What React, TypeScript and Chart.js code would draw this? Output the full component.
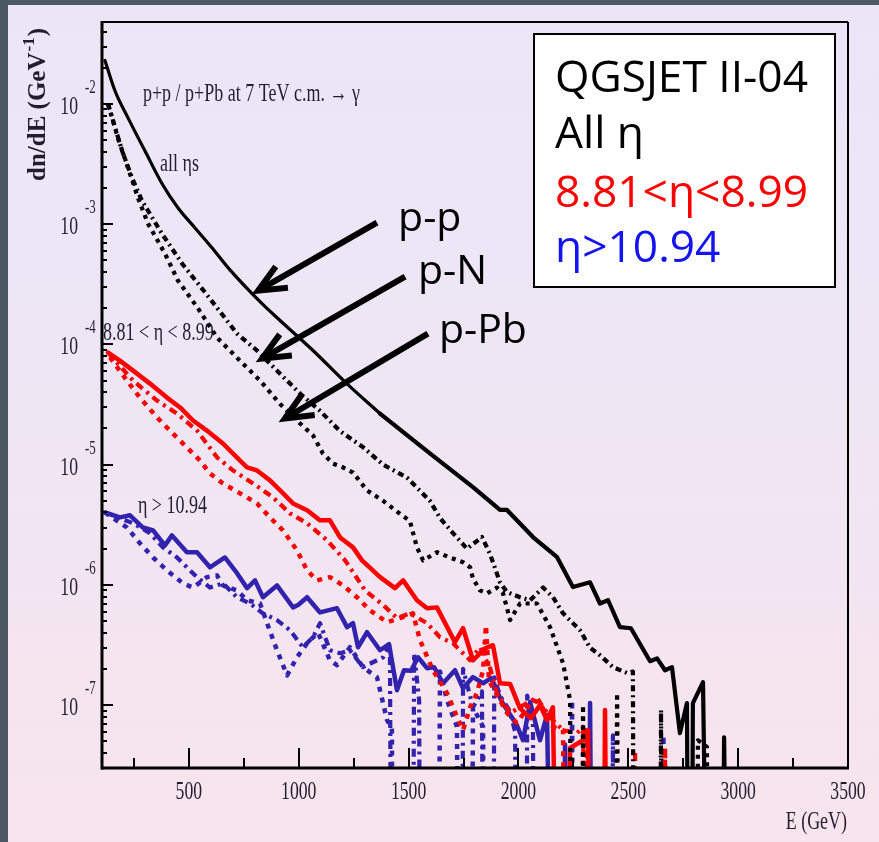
import React, { useEffect, useRef } from "react";
import { Chart, registerables } from "chart.js";

Chart.register(...registerables);

// An empty histogram bin: sits far below the log axis so the line drops out of the frame.
const ZERO = 1e-12;

// Photon spectra, all pseudorapidities: [E (GeV), dn/dE (GeV^-1)]
// p-p is kept in two parts: the smooth low-energy fall-off and the noisy high-energy tail.
const allEtaPPHead: [number, number][] = [
  [118, 2.3e-2], [164, 1.28e-2], [223, 7.65e-3], [300, 4.07e-3], [378, 2.17e-3], [450, 1.37e-3],
  [528, 9.3e-4], [605, 6.37e-4], [678, 4.35e-4], [833, 2.18e-4], [915, 1.58e-4], [1065, 8.9e-5],
  [1220, 4.7e-5], [1370, 2.66e-5],
];
const allEtaPPTail: [number, number][] = [
  [1370, 2.66e-5], [1597, 1.24e-5], [1793, 6.5e-6], [1916, 4.2e-6], [1948, 4.2e-6],
  [2066, 2.5e-6], [2176, 1.7e-6], [2248, 9.6e-7], [2326, 1.05e-6], [2371, 7.0e-7], [2408, 7.45e-7],
  [2462, 4.45e-7], [2512, 4.36e-7], [2599, 2.32e-7], [2631, 2.45e-7], [2667, 1.95e-7], [2699, 2.07e-7],
  [2735, 5.85e-8], [2767, 1.04e-7], [2781, ZERO], [2794, 1.04e-7], [2840, 1.55e-7], [2881, ZERO],
  [2917, ZERO], [2936, 5.4e-8], [2972, ZERO],
];
const allEtaPN: [number, number][] = [
  [132, 1.0e-2], [196, 4.07e-3], [241, 2.43e-3], [287, 1.56e-3], [378, 8.3e-4], [469, 4.7e-4],
  [596, 2.4e-4], [719, 1.23e-4], [810, 8.9e-5], [915, 5.7e-5], [1006, 3.9e-5], [1097, 2.8e-5],
  [1188, 1.9e-5], [1292, 1.4e-5], [1384, 1.0e-5], [1493, 7.8e-6], [1597, 5.0e-6], [1643, 3.6e-6],
  [1702, 2.7e-6], [1766, 2.0e-6], [1834, 2.5e-6], [1871, 1.8e-6], [1916, 1.05e-6], [1948, 8.7e-7],
  [2007, 7.9e-7], [2053, 7.45e-7], [2112, 9.5e-7], [2157, 7.9e-7], [2203, 5.8e-7], [2280, 4.2e-7],
  [2326, 3.0e-7], [2371, 2.6e-7], [2430, 2.07e-7], [2494, 1.85e-7], [2521, 1.9e-7], [2530, ZERO],
  [2640, ZERO], [2649, 9.1e-8], [2658, ZERO],
];
const allEtaPPb: [number, number][] = [
  [132, 1.0e-2], [177, 5.2e-3], [223, 2.94e-3], [268, 1.66e-3], [314, 1.01e-3], [391, 5.7e-4],
  [450, 3.4e-4], [541, 2.0e-4], [628, 1.14e-4], [733, 7.3e-5], [824, 5.0e-5], [915, 3.2e-5],
  [1006, 2.2e-5], [1065, 1.75e-5], [1110, 1.24e-5], [1156, 1.02e-5], [1201, 9.5e-6], [1247, 8.6e-6],
  [1311, 6.1e-6], [1384, 5.0e-6], [1461, 3.9e-6], [1506, 3.4e-6], [1538, 2.05e-6], [1566, 1.6e-6],
  [1629, 1.87e-6], [1688, 1.69e-6], [1748, 1.54e-6], [1780, 1.4e-6], [1793, 1.13e-6], [1825, 9.0e-7],
  [1857, 8.5e-7], [1902, 9.5e-7], [1930, 8.5e-7], [1962, 5.1e-7], [2007, 7.0e-7], [2084, 7.0e-7],
  [2144, 4.45e-7], [2203, 2.23e-7], [2235, 1.1e-7], [2248, ZERO], [2282, ZERO], [2294, 1.0e-7],
  [2308, ZERO], [2436, ZERO], [2449, 1.26e-7], [2467, ZERO], [2805, ZERO], [2817, 5.1e-8],
  [2858, 4.5e-8], [2867, ZERO],
];

// 8.81 < eta < 8.99
const midEtaPP: [number, number][] = [
  [132, 8.55e-5], [186, 7.33e-5], [246, 6.05e-5], [323, 4.72e-5], [400, 3.61e-5], [460, 2.99e-5],
  [519, 2.33e-5], [582, 1.92e-5], [655, 1.5e-5], [733, 1.08e-5], [765, 9.5e-6], [810, 8.95e-6],
  [869, 7.4e-6], [928, 5.8e-6], [974, 4.76e-6], [1038, 4.17e-6], [1097, 3.44e-6], [1142, 3.44e-6],
  [1188, 2.48e-6], [1247, 2.05e-6], [1288, 1.6e-6], [1370, 1.16e-6], [1438, 9.4e-7], [1475, 1.09e-6],
  [1538, 7.45e-7], [1584, 6.4e-7], [1629, 6.5e-7], [1711, 3.34e-7], [1748, 4.36e-7], [1793, 2.36e-7],
  [1848, 2.97e-7], [1884, 3.15e-7], [1916, 1.52e-7], [1962, 1.5e-7], [2007, 9.4e-8], [2057, 7.8e-8],
  [2098, 1.0e-7], [2130, 7.5e-8], [2157, 9.6e-8], [2198, ZERO], [2235, 4.4e-8], [2294, 5.1e-8],
  [2317, 6.2e-8], [2344, ZERO], [2380, ZERO], [2394, 9.1e-8], [2417, ZERO],
];
const midEtaPN: [number, number][] = [
  [132, 8.55e-5], [246, 5.0e-5], [355, 3.41e-5], [446, 2.66e-5], [537, 1.92e-5], [628, 1.15e-5],
  [701, 8.95e-6], [792, 6.98e-6], [883, 5.34e-6], [960, 3.93e-6], [1038, 3.25e-6], [1129, 2.35e-6],
  [1211, 1.6e-6], [1302, 9.0e-7], [1384, 6.8e-7], [1447, 5.3e-7], [1506, 5.8e-7], [1584, 4.8e-7],
  [1643, 3.67e-7], [1702, 3.27e-7], [1780, 2.36e-7], [1825, 3.03e-7], [1871, 2.03e-7], [1902, 1.26e-7],
  [1962, 8.6e-8], [2039, 1.04e-7], [2084, 1.16e-7], [2112, 9.6e-8], [2157, 7.5e-8], [2203, 6.2e-8],
  [2267, 5.85e-8], [2294, 6.6e-8], [2326, ZERO], [2520, ZERO], [2531, 4.0e-8], [2545, ZERO],
];
const midEtaPPb: [number, number][] = [
  [141, 7.8e-5], [218, 5.0e-5], [277, 3.61e-5], [355, 2.47e-5], [414, 1.92e-5], [491, 1.39e-5],
  [551, 1.08e-5], [596, 8.45e-6], [655, 6.98e-6], [733, 5.77e-6], [810, 4.76e-6], [869, 3.64e-6],
  [928, 2.84e-6], [992, 1.94e-6], [1038, 1.32e-6], [1083, 1.09e-6], [1142, 1.16e-6], [1201, 9.9e-7],
  [1265, 7.9e-7], [1324, 6.15e-7], [1402, 4.9e-7], [1475, 5.4e-7], [1520, 5.8e-7], [1552, 3.47e-7],
  [1611, 1.95e-7], [1675, 1.26e-7], [1720, 8.0e-8], [1748, 6.2e-8], [1780, 9.6e-8], [1811, 1.26e-7],
  [1839, 1.95e-7], [1852, 4.6e-7], [1866, 1.6e-7], [1948, 8.6e-8], [1993, 7.1e-8], [2066, 1.1e-7],
  [2098, 1.04e-7], [2157, 6.6e-8], [2203, 6.2e-8], [2228, ZERO], [2300, ZERO], [2312, 6.6e-8],
  [2325, ZERO], [2650, ZERO], [2667, 4.4e-8], [2685, ZERO],
];

// eta > 10.94
const highEtaPP: [number, number][] = [
  [118, 4.0e-6], [186, 3.64e-6], [232, 3.79e-6], [291, 3.0e-6], [337, 2.84e-6], [391, 2.13e-6],
  [423, 2.58e-6], [491, 1.87e-6], [537, 1.87e-6], [596, 1.4e-6], [664, 1.69e-6], [719, 1.25e-6],
  [765, 9.4e-7], [801, 1.09e-6], [837, 7.9e-7], [901, 9.9e-7], [974, 6.5e-7], [997, 6.8e-7],
  [1038, 7.9e-7], [1097, 5.9e-7], [1174, 6.4e-7], [1220, 4.45e-7], [1247, 4.8e-7], [1270, 3.03e-7],
  [1311, 4.04e-7], [1370, 2.86e-7], [1411, 3.21e-7], [1447, 1.33e-7], [1479, 1.95e-7], [1511, 1.93e-7],
  [1543, 2.5e-7], [1584, 2.03e-7], [1616, 2.07e-7], [1657, 1.52e-7], [1711, 1.95e-7], [1748, 1.38e-7],
  [1793, 1.71e-7], [1839, 1.52e-7], [1875, 1.68e-7], [1925, 1.06e-7], [1993, 6.8e-8], [2021, 5.1e-8],
  [2053, 1.06e-7], [2098, 5.1e-8], [2130, 8.3e-8], [2176, ZERO], [2200, ZERO], [2212, 4.7e-8],
  [2240, ZERO], [2314, ZERO], [2326, 1.04e-7], [2345, ZERO],
];
const highEtaPN: [number, number][] = [
  [118, 4.0e-6], [155, 3.79e-6], [246, 3.25e-6], [323, 2.69e-6], [382, 2.05e-6], [446, 1.69e-6],
  [491, 1.4e-6], [537, 1.16e-6], [596, 9.5e-7], [655, 1.03e-6], [719, 7.9e-7], [778, 7.0e-7],
  [837, 5.8e-7], [901, 5.1e-7], [960, 4.2e-7], [1019, 3.03e-7], [1065, 3.67e-7], [1097, 4.8e-7],
  [1142, 2.86e-7], [1188, 2.7e-7], [1233, 2.86e-7], [1292, 2.07e-7], [1384, 2.5e-7], [1415, 3.2e-7],
  [1428, ZERO], [1515, ZERO], [1525, 2.7e-7], [1548, 1.1e-7], [1558, ZERO], [1738, ZERO],
  [1748, 2.0e-7], [1793, 9.6e-8], [1834, 1.3e-7], [1845, ZERO], [1880, ZERO], [1890, 1.7e-7],
  [1916, 1.2e-7], [1960, 9.0e-8], [1985, 6.0e-8], [1995, ZERO], [2030, ZERO], [2040, 1.2e-7],
  [2066, 7.0e-8], [2080, ZERO], [2420, ZERO], [2430, 5.6e-8], [2440, ZERO],
];
const highEtaPPb: [number, number][] = [
  [118, 4.0e-6], [218, 3.0e-6], [277, 2.22e-6], [337, 1.69e-6], [400, 1.32e-6], [473, 1.03e-6],
  [519, 9.5e-7], [582, 1.16e-6], [628, 1.2e-6], [655, 9.9e-7], [719, 9.0e-7], [765, 7.45e-7],
  [824, 7.0e-7], [856, 4.8e-7], [901, 2.86e-7], [947, 1.77e-7], [992, 2.5e-7], [1038, 3.27e-7],
  [1088, 4.0e-7], [1142, 2.36e-7], [1174, 2.15e-7], [1233, 3.03e-7], [1292, 2.07e-7], [1356, 1.71e-7],
  [1402, 7.5e-8], [1424, 6.4e-8], [1432, ZERO], [1630, ZERO], [1643, 1.9e-7], [1675, 1.1e-7],
  [1720, 6.6e-8], [1740, ZERO], [1780, ZERO], [1793, 9.6e-8], [1839, 6.6e-8], [1850, ZERO],
  [2230, ZERO], [2244, 1.1e-7], [2255, ZERO], [2650, ZERO], [2660, 5.6e-8], [2670, ZERO],
];

// Axes
const xMin = 100;
const xMax = 3500;
const yMin = 3e-8;
const yMax = 0.048;
const xMajorTicks = [500, 1000, 1500, 2000, 2500, 3000, 3500];
const xMinorTicks = [250, 750, 1250, 1750, 2250, 2750, 3250];
const yDecades = [-2, -3, -4, -5, -6, -7];

// Labels placed in data coordinates: [E, dn/dE]
const plotTexts: { text: string; at: [number, number] }[] = [
  { text: "p+p / p+Pb at 7 TeV c.m. \u2192 \u03b3", at: [291, 1.06e-2] },
  { text: "all \u03b7s", at: [369, 2.78e-3] },
  { text: "8.81 < \u03b7 < 8.99", at: [109, 1.08e-4] },
  { text: "\u03b7 > 10.94", at: [268, 3.93e-6] },
];
const arrows: { label: string; from: [number, number]; to: [number, number]; labelAt: [number, number] }[] = [
  { label: "p-p", from: [1356, 1.03e-3], to: [815, 2.8e-4], labelAt: [1452, 8.8e-4] },
  { label: "p-N", from: [1484, 3.66e-4], to: [833, 7.62e-5], labelAt: [1543, 3.2e-4] },
  { label: "p-Pb", from: [1588, 1.23e-4], to: [937, 2.42e-5], labelAt: [1638, 1.02e-4] },
];
const legendLines: { text: string; color: string }[] = [
  { text: "QGSJET II-04", color: "#000000" },
  { text: "All \u03b7", color: "#000000" },
  { text: "8.81<\u03b7<8.99", color: "#ff0000" },
  { text: "\u03b7>10.94", color: "#1414f0" },
];

const BLACK = "#000000";
const RED = "#ff0000";
const BLUE = "#3223ae";
const LABEL_INK = "#221d30";
const SERIF = '"Liberation Serif", "DejaVu Serif", serif';
const SANS = '"Open Sans", "Noto Sans", sans-serif';

function drawText(
  ctx: CanvasRenderingContext2D,
  s: string,
  x: number,
  y: number,
  font: string,
  color: string,
  align: CanvasTextAlign = "left",
  sx = 1
) {
  ctx.save();
  ctx.translate(x, y);
  ctx.scale(sx, 1);
  ctx.font = font;
  ctx.fillStyle = color;
  ctx.textAlign = align;
  ctx.textBaseline = "alphabetic";
  ctx.fillText(s, 0, 0);
  ctx.restore();
}

function seg(ctx: CanvasRenderingContext2D, x1: number, y1: number, x2: number, y2: number) {
  ctx.beginPath();
  ctx.moveTo(x1, y1);
  ctx.lineTo(x2, y2);
  ctx.stroke();
}

const decorations = {
  id: "decorations",
  beforeDraw(chart: any) {
    const { ctx, width, height } = chart;
    ctx.save();
    ctx.fillStyle = "#4a5962";
    ctx.fillRect(0, 0, width, height);
    const g = ctx.createLinearGradient(0, 5, 0, height);
    g.addColorStop(0, "#eae6f8");
    g.addColorStop(0.5, "#efe6f4");
    g.addColorStop(1, "#f8e4ec");
    ctx.fillStyle = g;
    ctx.fillRect(8, 5, width - 8, height - 5);
    ctx.restore();
  },
  afterDatasetsDraw(chart: any) {
    const { ctx, chartArea: a } = chart;
    const xs = chart.scales.x;
    const ys = chart.scales.y;
    const px = (v: number) => xs.getPixelForValue(v);
    const py = (v: number) => ys.getPixelForValue(v);
    ctx.save();

    // frame
    ctx.strokeStyle = BLACK;
    ctx.lineCap = "butt";
    ctx.lineWidth = 2;
    seg(ctx, a.left, a.top, a.right, a.top);
    seg(ctx, a.right, a.top, a.right, a.bottom);
    ctx.lineWidth = 3;
    seg(ctx, a.left + 1, a.top - 1, a.left + 1, a.bottom + 1.5);
    seg(ctx, a.left, a.bottom, a.right + 1, a.bottom);

    // inward ticks
    ctx.lineWidth = 2;
    for (const v of xMajorTicks) {
      const x = Math.round(px(v));
      seg(ctx, x, a.bottom, x, a.bottom - 20);
    }
    for (const v of xMinorTicks) {
      const x = Math.round(px(v));
      seg(ctx, x, a.bottom, x, a.bottom - 10);
    }
    for (let e = -8; e <= -2; e++) {
      for (let m = 1; m <= 9; m++) {
        const v = m * Math.pow(10, e);
        if (v < yMin || v > yMax) continue;
        const y = Math.round(py(v));
        seg(ctx, a.left, y, a.left + (m === 1 ? 12 : 6), y);
      }
    }

    // tick labels
    const tickFont = `26px ${SERIF}`;
    for (const v of xMajorTicks) {
      drawText(ctx, String(v), px(v), a.bottom + 31, tickFont, LABEL_INK, "center", 0.68);
    }
    for (const d of yDecades) {
      const y = py(Math.pow(10, d));
      drawText(ctx, "10", a.left - 23, y + 10, tickFont, LABEL_INK, "right", 0.68);
      drawText(ctx, String(d), a.left - 16, y - 11, `19px ${SERIF}`, LABEL_INK, "left", 0.68);
    }

    // axis titles
    drawText(ctx, "E (GeV)", a.right - 1, a.bottom + 61, `26px ${SERIF}`, LABEL_INK, "right", 0.69);
    {
      ctx.save();
      ctx.translate(45, 181);
      ctx.rotate(-Math.PI / 2);
      ctx.fillStyle = LABEL_INK;
      ctx.textBaseline = "alphabetic";
      ctx.font = `bold 25px ${SERIF}`;
      const main = "dn/dE (GeV";
      ctx.fillText(main, 0, 0);
      let w = ctx.measureText(main).width;
      ctx.font = `bold 17px ${SERIF}`;
      ctx.fillText("-1", w + 1, -11);
      w += ctx.measureText("-1").width + 2;
      ctx.font = `bold 25px ${SERIF}`;
      ctx.fillText(")", w, 0);
      ctx.restore();
    }

    // in-frame captions
    for (const t of plotTexts) {
      drawText(ctx, t.text, px(t.at[0]), py(t.at[1]), `25px ${SERIF}`, LABEL_INK, "left", 0.72);
    }

    // arrows with labels
    for (const ar of arrows) {
      const x1 = px(ar.from[0]);
      const y1 = py(ar.from[1]);
      const x2 = px(ar.to[0]);
      const y2 = py(ar.to[1]);
      ctx.strokeStyle = BLACK;
      ctx.lineWidth = 6;
      ctx.lineCap = "butt";
      seg(ctx, x1, y1, x2, y2);
      const back = Math.atan2(y1 - y2, x1 - x2);
      const len = 30;
      const spread = 0.42;
      ctx.lineJoin = "miter";
      ctx.beginPath();
      ctx.moveTo(x2 + len * Math.cos(back - spread), y2 + len * Math.sin(back - spread));
      ctx.lineTo(x2, y2);
      ctx.lineTo(x2 + len * Math.cos(back + spread), y2 + len * Math.sin(back + spread));
      ctx.stroke();
      drawText(ctx, ar.label, px(ar.labelAt[0]), py(ar.labelAt[1]), `41px ${SANS}`, BLACK, "left");
    }

    // legend box
    const bx = a.right - 314;
    const by = a.top + 12;
    ctx.fillStyle = "#ffffff";
    ctx.fillRect(bx, by, 301, 253);
    ctx.strokeStyle = BLACK;
    ctx.lineWidth = 2;
    ctx.strokeRect(bx, by, 301, 253);
    const baselines = [58, 114, 173, 228];
    legendLines.forEach((l, i) => {
      drawText(ctx, l.text, bx + 21, by + baselines[i], `43px ${SANS}`, l.color, "left", 1.03);
    });

    ctx.restore();
  },
};

function series(
  points: [number, number][],
  color: string,
  width: number,
  dash: number[],
  smooth = false
) {
  return {
    data: points.map(([x, y]) => ({ x, y })),
    borderColor: color,
    backgroundColor: color,
    borderWidth: width,
    borderDash: dash,
    borderCapStyle: dash.length ? "butt" : "round",
    borderJoinStyle: "round",
    pointRadius: 0,
    fill: false,
    tension: 0,
    cubicInterpolationMode: smooth ? "monotone" : "default",
    clip: 0,
  };
}

export default function App() {
  const canvasRef = useRef<HTMLCanvasElement>(null);

  useEffect(() => {
    document.body.style.margin = "0";
    const canvas = canvasRef.current;
    if (!canvas) return;
    const chart = new Chart(canvas, {
      type: "line",
      data: {
        datasets: [
          series(allEtaPPHead, BLACK, 3.2, [], true),
          series(allEtaPPTail, BLACK, 4.2, []),
          series(allEtaPN, BLACK, 4.2, [6, 4, 2, 4]),
          series(allEtaPPb, BLACK, 4.2, [4, 5]),
          series(midEtaPP, RED, 4.5, []),
          series(midEtaPN, RED, 4.2, [8, 5, 3, 5]),
          series(midEtaPPb, RED, 4.5, [5, 6]),
          series(highEtaPP, BLUE, 4.5, []),
          series(highEtaPN, BLUE, 4.2, [8, 5, 3, 5]),
          series(highEtaPPb, BLUE, 4.5, [5, 6]),
        ] as any,
      },
      options: {
        responsive: false,
        animation: false,
        devicePixelRatio: 1,
        layout: { padding: { left: 101, top: 22, right: 31, bottom: 74 } },
        plugins: { legend: { display: false }, tooltip: { enabled: false } },
        events: [],
        scales: {
          x: { type: "linear", min: xMin, max: xMax, display: false },
          y: { type: "logarithmic", min: yMin, max: yMax, display: false },
        },
      },
      plugins: [decorations],
    });
    return () => chart.destroy();
  }, []);

  return (
    <div style={{ width: 879, height: 842 }}>
      <canvas ref={canvasRef} width={879} height={842} style={{ display: "block", width: 879, height: 842 }} />
    </div>
  );
}
